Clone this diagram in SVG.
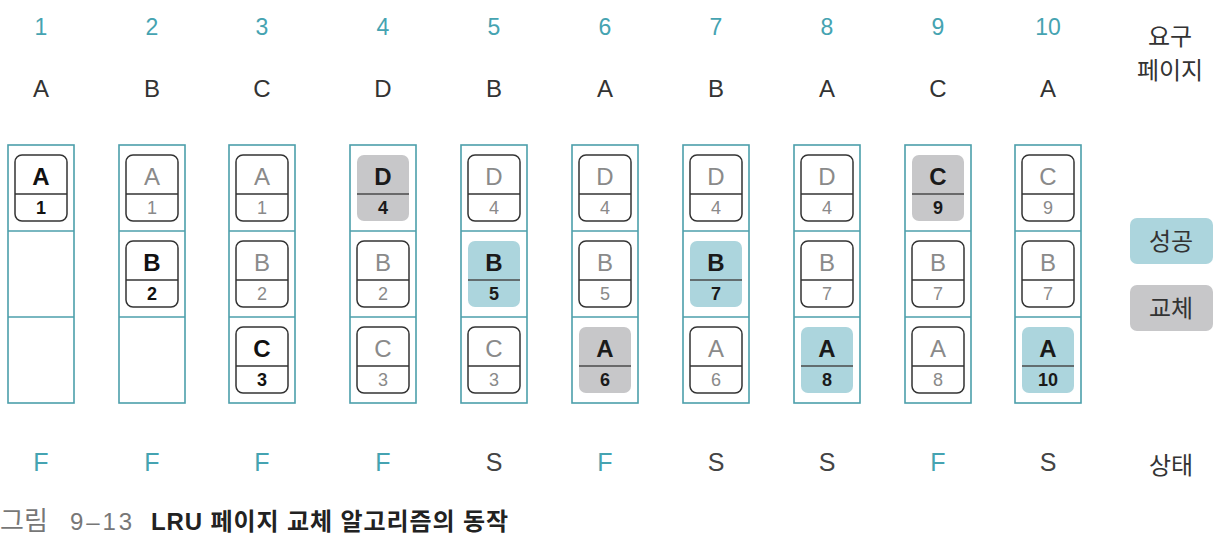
<svg xmlns="http://www.w3.org/2000/svg" width="1214" height="544" viewBox="0 0 1214 544">
<style>
text{font-family:"Liberation Sans","Noto Sans CJK KR",sans-serif;text-anchor:middle}
.kr{font-family:"Noto Sans CJK KR","Liberation Sans",sans-serif;font-size:24px;fill:#333}
.hn{font-size:23px;fill:#45a3b1}
.hl{font-size:24px;fill:#333}
.st{font-size:25px}
.F{fill:#45a3b1}.S{fill:#444}
.frame rect,.frame line{fill:none;stroke:#4c9fab;stroke-width:1.6}
.card rect{stroke-width:1.5}
.card line{stroke-width:1.4}
.card .l{font-size:24px}
.card .n{font-size:18px}
.new rect,.old rect{fill:#fff;stroke:#333}
.new line,.old line{stroke:#333}
.new .l,.new .n{fill:#111;font-weight:bold}
.old .l,.old .n{fill:#8a8a8a}
.hit rect{fill:#acd5dd;stroke:none}
.rep rect{fill:#c7c7c9;stroke:none}
.hit line,.rep line{stroke:#4a4a4a}
.hit .l,.hit .n,.rep .l,.rep .n{fill:#1a1a1a;font-weight:bold}
</style>
<rect width="1214" height="544" fill="#fff"/>

<g id="header">
<text class="hn" x="41" y="35">1</text><text class="hn" x="152" y="35">2</text><text class="hn" x="262" y="35">3</text><text class="hn" x="383" y="35">4</text><text class="hn" x="494" y="35">5</text><text class="hn" x="605" y="35">6</text><text class="hn" x="716" y="35">7</text><text class="hn" x="827" y="35">8</text><text class="hn" x="938" y="35">9</text><text class="hn" x="1048" y="35">10</text>
<text class="hl" x="41" y="97">A</text><text class="hl" x="152" y="97">B</text><text class="hl" x="262" y="97">C</text><text class="hl" x="383" y="97">D</text><text class="hl" x="494" y="97">B</text><text class="hl" x="605" y="97">A</text><text class="hl" x="716" y="97">B</text><text class="hl" x="827" y="97">A</text><text class="hl" x="938" y="97">C</text><text class="hl" x="1048" y="97">A</text>
<text class="kr" x="1170" y="45">요구</text>
<text class="kr" x="1170" y="79">페이지</text>
</g>

<g id="frames" class="frame">
<g id="col1"><rect x="8" y="145" width="66" height="258"/><line x1="8" y1="231" x2="74" y2="231"/><line x1="8" y1="317" x2="74" y2="317"/></g>
<g id="col2"><rect x="119" y="145" width="66" height="258"/><line x1="119" y1="231" x2="185" y2="231"/><line x1="119" y1="317" x2="185" y2="317"/></g>
<g id="col3"><rect x="229" y="145" width="66" height="258"/><line x1="229" y1="231" x2="295" y2="231"/><line x1="229" y1="317" x2="295" y2="317"/></g>
<g id="col4"><rect x="350" y="145" width="66" height="258"/><line x1="350" y1="231" x2="416" y2="231"/><line x1="350" y1="317" x2="416" y2="317"/></g>
<g id="col5"><rect x="461" y="145" width="66" height="258"/><line x1="461" y1="231" x2="527" y2="231"/><line x1="461" y1="317" x2="527" y2="317"/></g>
<g id="col6"><rect x="572" y="145" width="66" height="258"/><line x1="572" y1="231" x2="638" y2="231"/><line x1="572" y1="317" x2="638" y2="317"/></g>
<g id="col7"><rect x="683" y="145" width="66" height="258"/><line x1="683" y1="231" x2="749" y2="231"/><line x1="683" y1="317" x2="749" y2="317"/></g>
<g id="col8"><rect x="794" y="145" width="66" height="258"/><line x1="794" y1="231" x2="860" y2="231"/><line x1="794" y1="317" x2="860" y2="317"/></g>
<g id="col9"><rect x="905" y="145" width="66" height="258"/><line x1="905" y1="231" x2="971" y2="231"/><line x1="905" y1="317" x2="971" y2="317"/></g>
<g id="col10"><rect x="1015" y="145" width="66" height="258"/><line x1="1015" y1="231" x2="1081" y2="231"/><line x1="1015" y1="317" x2="1081" y2="317"/></g>
</g>

<g id="cards">
<g id="c1r1" class="card new"><rect x="15" y="155" width="52" height="66" rx="7"/><line x1="15" y1="194" x2="67" y2="194"/><text class="l" x="41" y="185">A</text><text class="n" x="41" y="214">1</text></g>
<g id="c2r1" class="card old"><rect x="126" y="155" width="52" height="66" rx="7"/><line x1="126" y1="194" x2="178" y2="194"/><text class="l" x="152" y="185">A</text><text class="n" x="152" y="214">1</text></g>
<g id="c2r2" class="card new"><rect x="126" y="241" width="52" height="66" rx="7"/><line x1="126" y1="280" x2="178" y2="280"/><text class="l" x="152" y="271">B</text><text class="n" x="152" y="300">2</text></g>
<g id="c3r1" class="card old"><rect x="236" y="155" width="52" height="66" rx="7"/><line x1="236" y1="194" x2="288" y2="194"/><text class="l" x="262" y="185">A</text><text class="n" x="262" y="214">1</text></g>
<g id="c3r2" class="card old"><rect x="236" y="241" width="52" height="66" rx="7"/><line x1="236" y1="280" x2="288" y2="280"/><text class="l" x="262" y="271">B</text><text class="n" x="262" y="300">2</text></g>
<g id="c3r3" class="card new"><rect x="236" y="327" width="52" height="66" rx="7"/><line x1="236" y1="366" x2="288" y2="366"/><text class="l" x="262" y="357">C</text><text class="n" x="262" y="386">3</text></g>
<g id="c4r1" class="card rep"><rect x="357" y="155" width="52" height="66" rx="7"/><line x1="357" y1="194" x2="409" y2="194"/><text class="l" x="383" y="185">D</text><text class="n" x="383" y="214">4</text></g>
<g id="c4r2" class="card old"><rect x="357" y="241" width="52" height="66" rx="7"/><line x1="357" y1="280" x2="409" y2="280"/><text class="l" x="383" y="271">B</text><text class="n" x="383" y="300">2</text></g>
<g id="c4r3" class="card old"><rect x="357" y="327" width="52" height="66" rx="7"/><line x1="357" y1="366" x2="409" y2="366"/><text class="l" x="383" y="357">C</text><text class="n" x="383" y="386">3</text></g>
<g id="c5r1" class="card old"><rect x="468" y="155" width="52" height="66" rx="7"/><line x1="468" y1="194" x2="520" y2="194"/><text class="l" x="494" y="185">D</text><text class="n" x="494" y="214">4</text></g>
<g id="c5r2" class="card hit"><rect x="468" y="241" width="52" height="66" rx="7"/><line x1="468" y1="280" x2="520" y2="280"/><text class="l" x="494" y="271">B</text><text class="n" x="494" y="300">5</text></g>
<g id="c5r3" class="card old"><rect x="468" y="327" width="52" height="66" rx="7"/><line x1="468" y1="366" x2="520" y2="366"/><text class="l" x="494" y="357">C</text><text class="n" x="494" y="386">3</text></g>
<g id="c6r1" class="card old"><rect x="579" y="155" width="52" height="66" rx="7"/><line x1="579" y1="194" x2="631" y2="194"/><text class="l" x="605" y="185">D</text><text class="n" x="605" y="214">4</text></g>
<g id="c6r2" class="card old"><rect x="579" y="241" width="52" height="66" rx="7"/><line x1="579" y1="280" x2="631" y2="280"/><text class="l" x="605" y="271">B</text><text class="n" x="605" y="300">5</text></g>
<g id="c6r3" class="card rep"><rect x="579" y="327" width="52" height="66" rx="7"/><line x1="579" y1="366" x2="631" y2="366"/><text class="l" x="605" y="357">A</text><text class="n" x="605" y="386">6</text></g>
<g id="c7r1" class="card old"><rect x="690" y="155" width="52" height="66" rx="7"/><line x1="690" y1="194" x2="742" y2="194"/><text class="l" x="716" y="185">D</text><text class="n" x="716" y="214">4</text></g>
<g id="c7r2" class="card hit"><rect x="690" y="241" width="52" height="66" rx="7"/><line x1="690" y1="280" x2="742" y2="280"/><text class="l" x="716" y="271">B</text><text class="n" x="716" y="300">7</text></g>
<g id="c7r3" class="card old"><rect x="690" y="327" width="52" height="66" rx="7"/><line x1="690" y1="366" x2="742" y2="366"/><text class="l" x="716" y="357">A</text><text class="n" x="716" y="386">6</text></g>
<g id="c8r1" class="card old"><rect x="801" y="155" width="52" height="66" rx="7"/><line x1="801" y1="194" x2="853" y2="194"/><text class="l" x="827" y="185">D</text><text class="n" x="827" y="214">4</text></g>
<g id="c8r2" class="card old"><rect x="801" y="241" width="52" height="66" rx="7"/><line x1="801" y1="280" x2="853" y2="280"/><text class="l" x="827" y="271">B</text><text class="n" x="827" y="300">7</text></g>
<g id="c8r3" class="card hit"><rect x="801" y="327" width="52" height="66" rx="7"/><line x1="801" y1="366" x2="853" y2="366"/><text class="l" x="827" y="357">A</text><text class="n" x="827" y="386">8</text></g>
<g id="c9r1" class="card rep"><rect x="912" y="155" width="52" height="66" rx="7"/><line x1="912" y1="194" x2="964" y2="194"/><text class="l" x="938" y="185">C</text><text class="n" x="938" y="214">9</text></g>
<g id="c9r2" class="card old"><rect x="912" y="241" width="52" height="66" rx="7"/><line x1="912" y1="280" x2="964" y2="280"/><text class="l" x="938" y="271">B</text><text class="n" x="938" y="300">7</text></g>
<g id="c9r3" class="card old"><rect x="912" y="327" width="52" height="66" rx="7"/><line x1="912" y1="366" x2="964" y2="366"/><text class="l" x="938" y="357">A</text><text class="n" x="938" y="386">8</text></g>
<g id="c10r1" class="card old"><rect x="1022" y="155" width="52" height="66" rx="7"/><line x1="1022" y1="194" x2="1074" y2="194"/><text class="l" x="1048" y="185">C</text><text class="n" x="1048" y="214">9</text></g>
<g id="c10r2" class="card old"><rect x="1022" y="241" width="52" height="66" rx="7"/><line x1="1022" y1="280" x2="1074" y2="280"/><text class="l" x="1048" y="271">B</text><text class="n" x="1048" y="300">7</text></g>
<g id="c10r3" class="card hit"><rect x="1022" y="327" width="52" height="66" rx="7"/><line x1="1022" y1="366" x2="1074" y2="366"/><text class="l" x="1048" y="357">A</text><text class="n" x="1048" y="386">10</text></g>
</g>

<g id="legend">
<g id="legend-hit"><rect x="1130" y="218" width="83" height="46" rx="7" fill="#acd5dd"/><text class="kr" x="1171" y="250">성공</text></g>
<g id="legend-rep"><rect x="1130" y="285" width="83" height="46" rx="7" fill="#c7c7c9"/><text class="kr" x="1171" y="317">교체</text></g>
</g>

<g id="status">
<text class="st F" x="41" y="471">F</text><text class="st F" x="152" y="471">F</text><text class="st F" x="262" y="471">F</text><text class="st F" x="383" y="471">F</text><text class="st S" x="494" y="471">S</text><text class="st F" x="605" y="471">F</text><text class="st S" x="716" y="471">S</text><text class="st S" x="827" y="471">S</text><text class="st F" x="938" y="471">F</text><text class="st S" x="1048" y="471">S</text>
<text class="kr" x="1171" y="474">상태</text>
</g>

<g id="caption">
<text x="0" y="530" style="text-anchor:start;font-family:'Noto Sans CJK KR',sans-serif;font-size:26px;fill:#777">그림</text>
<text x="70" y="530" style="text-anchor:start;font-size:24px;fill:#777" textLength="62" lengthAdjust="spacing">9–13</text>
<text x="151" y="530" style="text-anchor:start;font-family:'Liberation Sans','Noto Sans CJK KR',sans-serif;font-size:24px;font-weight:bold;fill:#222" textLength="357" lengthAdjust="spacing">LRU 페이지 교체 알고리즘의 동작</text>
</g>
</svg>
